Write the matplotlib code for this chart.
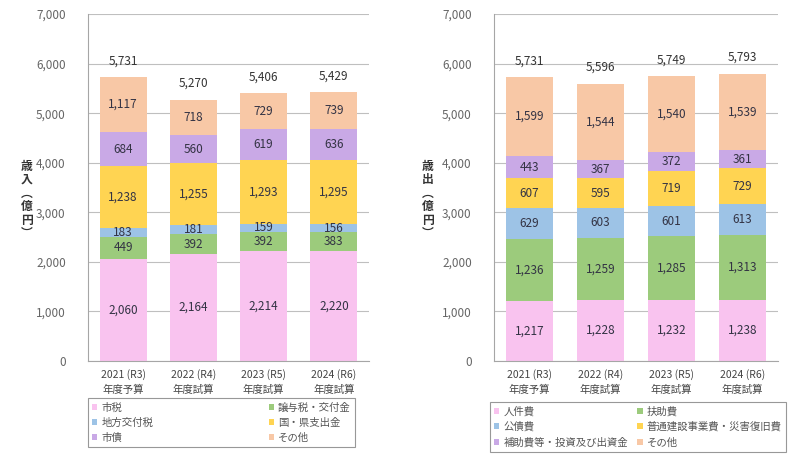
import matplotlib
matplotlib.use("Agg")
import matplotlib.pyplot as plt
import numpy as np

plt.rcParams['font.family'] = ['Noto Sans CJK JP', 'DejaVu Sans']

years = ["2021 (R3)\n年度予算", "2022 (R4)\n年度試算", "2023 (R5)\n年度試算", "2024 (R6)\n年度試算"]

rev_names = ["市税", "譲与税・交付金", "地方交付税", "国・県支出金", "市債", "その他"]
rev_shizei = [2060, 2164, 2214, 2220]
rev_joyo = [449, 392, 392, 383]
rev_chiho = [183, 181, 159, 156]
rev_kokuken = [1238, 1255, 1293, 1295]
rev_shisai = [684, 560, 619, 636]
rev_sonota = [1117, 718, 729, 739]
rev_total = [5731, 5270, 5406, 5429]

exp_names = ["人件費", "扶助費", "公債費", "普通建設事業費・災害復旧費", "補助費等・投資及び出資金", "その他"]
exp_jinken = [1217, 1228, 1232, 1238]
exp_fujo = [1236, 1259, 1285, 1313]
exp_kosai = [629, 603, 601, 613]
exp_futsu = [607, 595, 719, 729]
exp_hojo = [443, 367, 372, 361]
exp_sonota = [1599, 1544, 1540, 1539]
exp_total = [5731, 5596, 5749, 5793]

colors = ["#F9C3EF", "#9CCB7C", "#9DC3E6", "#FFD452", "#C9A9E6", "#F8C8A6"]

W, H = 789, 459
fig = plt.figure(figsize=(W / 100, H / 100), dpi=100)


def px_axes(x0, x1, ytop, ybot):
    return fig.add_axes([x0 / W, (H - ybot) / H, (x1 - x0) / W, (ybot - ytop) / H])


def draw(ax, series, totals, names, legend_box, ylabel, ylab_x):
    x = np.arange(len(years))
    bottom = np.zeros(len(years))
    handles = []
    for vals, c, n in zip(series, colors, names):
        vals = np.array(vals, dtype=float)
        b = ax.bar(x, vals, 0.67, bottom=bottom, color=c, label=n, zorder=2)
        handles.append(b)
        for xi, v, bt in zip(x, vals, bottom):
            ax.text(xi, bt + v / 2, f"{int(v):,}", ha="center", va="center",
                    fontsize=8.5, color="#333344", zorder=3)
        bottom += vals
    for xi, t in zip(x, totals):
        ax.annotate(f"{t:,}", (xi, t), xytext=(0, 7), textcoords="offset points",
                    ha="center", va="bottom", fontsize=8.5, color="#333333")
    ax.set_ylim(0, 7000)
    ax.set_xlim(-0.5, 3.5)
    ax.set_yticks(range(0, 7001, 1000))
    ax.set_yticklabels([f"{v:,}" for v in range(0, 7001, 1000)], fontsize=8.5, color="#666666")
    ax.set_xticks(x)
    ax.set_xticklabels(years, fontsize=7.5, color="#444444", linespacing=1.5)
    ax.tick_params(length=0)
    ax.tick_params(axis="y", pad=16)
    ax.tick_params(axis="x", pad=6)
    ax.grid(axis="y", color="#BFBFBF", linewidth=0.8, zorder=0)
    ax.set_axisbelow(True)
    for s in ["top", "right"]:
        ax.spines[s].set_visible(False)
    for s in ["left", "bottom"]:
        ax.spines[s].set_color("#A6A6A6")
        ax.spines[s].set_linewidth(0.8)
    fig.text(ylab_x / W, 1 - 200 / H, ylabel, ha="center", va="center",
             fontsize=8.5, color="#333333", linespacing=1.05, fontweight="bold")
    order = [0, 2, 4, 1, 3, 5]
    x0, y0, x1, y1 = legend_box
    leg = fig.legend(handles=[handles[i] for i in order], labels=[names[i] for i in order],
                     ncol=2, loc="upper left",
                     bbox_to_anchor=(x0 / W, 1 - y1 / H, (x1 - x0) / W, (y1 - y0) / H),
                     mode="expand", fontsize=7.5, frameon=True, fancybox=False,
                     shadow=False, handlelength=0.5, handleheight=0.5,
                     handletextpad=0.4, borderpad=0.4, labelspacing=0.5,
                     columnspacing=0.8, edgecolor="#7F7F7F", borderaxespad=0)
    leg.get_frame().set_linewidth(0.8)
    for t in leg.get_texts():
        t.set_color("#555555")


ax1 = px_axes(88, 369, 14, 361)
draw(ax1, [rev_shizei, rev_joyo, rev_chiho, rev_kokuken, rev_shisai, rev_sonota],
     rev_total, rev_names, (88, 398, 355, 457), "歳\n入\n︵\n億\n円\n︶", 27)

ax2 = px_axes(494, 778, 14, 361)
draw(ax2, [exp_jinken, exp_fujo, exp_kosai, exp_futsu, exp_hojo, exp_sonota],
     exp_total, exp_names, (490, 402, 786, 458), "歳\n出\n︵\n億\n円\n︶", 428)

fig.savefig("out.png", dpi=100)
